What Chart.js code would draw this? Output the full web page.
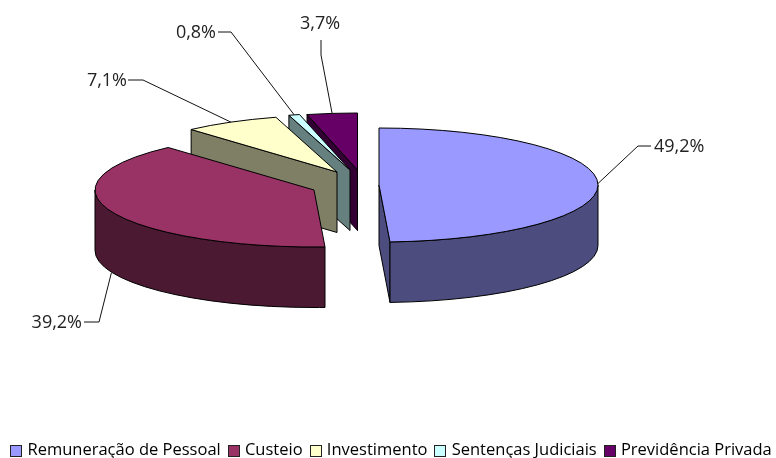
<!DOCTYPE html>
<html><head><meta charset="utf-8">
<style>html,body{margin:0;padding:0;background:#fff}#wrap{width:776px;height:458px}</style>
<script src="https://cdn.jsdelivr.net/npm/chart.js@4"></script>
</head><body><div id="wrap"><canvas id="c" width="776" height="458"></canvas></div>
<script>
const categories = ["Remuneração de Pessoal","Custeio","Investimento","Sentenças Judiciais","Previdência Privada"];
const shares = [49.2,39.2,7.1,0.8,3.7];
const colours = ["#9999ff","#993366","#ffffcc","#ccffff","#660066"];

// Layout only: exploded slice centres, ellipse radii, wall depth, label leaders
const FONT = '"Open Sans"';
const RX = 219, RY = 57, DEPTH = 60.5;
const centres = [[379,185],[314,190],[337,172],[350,170],[357.5,170]];
const leaders = [
  {via:[[638,146],[651,146]], text:[654,147,'left'], dy:0},
  {via:[[99,322],[84,322]], text:[82,323,'right'], dy:61},
  {via:[[143,80],[128,80]], text:[127,81,'right'], dy:0},
  {via:[[231,32],[218,32]], text:[216,33,'right'], dy:0},
  {via:[[321,55],[321,40]], text:[320,24,'center'], dy:0}
];
const shade = h => {
  const n = parseInt(h.slice(1),16);
  return `rgb(${(n>>16&255)>>1},${(n>>8&255)>>1},${(n&255)>>1})`;
};

const pie3d = {
  id:'pie3d',
  beforeDatasetDraw(chart){
    const ctx = chart.ctx, arcs = chart.getDatasetMeta(0).data;
    ctx.save();
    ctx.lineWidth = 1; ctx.strokeStyle = '#000'; ctx.lineJoin = 'round';
    for(let i=arcs.length-1;i>=0;i--){
      const s = arcs[i].startAngle, e = arcs[i].endAngle, [cx,cy] = centres[i];
      const pt = t => [cx+RX*Math.cos(t), cy+RY*Math.sin(t)];
      ctx.fillStyle = shade(colours[i]);
      const face = t => {
        const p = pt(t);
        ctx.beginPath(); ctx.moveTo(cx,cy); ctx.lineTo(p[0],p[1]);
        ctx.lineTo(p[0],p[1]+DEPTH); ctx.lineTo(cx,cy+DEPTH); ctx.closePath();
        ctx.fill(); ctx.stroke();
      };
      if(Math.cos(s)<0) face(s);
      if(Math.cos(e)>0) face(e);
      const a = Math.max(s,0), b = Math.min(e,Math.PI);
      if(a<b){
        ctx.beginPath();
        ctx.ellipse(cx,cy,RX,RY,0,a,b);
        ctx.ellipse(cx,cy+DEPTH,RX,RY,0,b,a,true);
        ctx.closePath(); ctx.fill(); ctx.stroke();
      }
      ctx.fillStyle = colours[i];
      ctx.beginPath(); ctx.moveTo(cx,cy);
      ctx.ellipse(cx,cy,RX,RY,0,s,e);
      ctx.closePath(); ctx.fill(); ctx.stroke();
    }
    ctx.font = '18px '+FONT; ctx.textBaseline = 'middle';
    arcs.forEach((arc,i)=>{
      const L = leaders[i], m = (arc.startAngle+arc.endAngle)/2, [cx,cy] = centres[i];
      ctx.beginPath();
      ctx.moveTo(cx+RX*Math.cos(m), cy+RY*Math.sin(m)+L.dy);
      L.via.forEach(p=>ctx.lineTo(p[0],p[1]));
      ctx.strokeStyle = '#111'; ctx.stroke();
      ctx.fillStyle = '#222'; ctx.textAlign = L.text[2];
      ctx.fillText(shares[i].toFixed(1).replace('.',',')+'%', L.text[0], L.text[1]);
    });
    ctx.restore();
    return false;
  },
  afterDraw(chart){
    const ctx = chart.ctx, boxes = chart.legend.legendHitBoxes;
    ctx.save(); ctx.lineWidth = 1; ctx.strokeStyle = '#222';
    boxes.forEach((b,i)=>{
      const y = Math.round(b.top + b.height/2 - 5.5);
      ctx.fillStyle = colours[i];
      ctx.fillRect(Math.round(b.left)+.5, y+.5, 11, 11);
      ctx.strokeRect(Math.round(b.left)+.5, y+.5, 11, 11);
    });
    ctx.restore();
  }
};

new Chart(document.getElementById('c'),{
  type:'pie',
  data:{labels:categories,datasets:[{data:shares,backgroundColor:colours,borderColor:'#000',borderWidth:1}]},
  options:{
    responsive:false,animation:false,
    layout:{padding:{bottom:-11,left:3,right:-3}},
    plugins:{
      tooltip:{enabled:false},
      legend:{position:'bottom',
        labels:{boxWidth:9,boxHeight:11,padding:7,color:'#222',font:{family:FONT,size:16.5},
          generateLabels(chart){
            return categories.map((text,index)=>({text,index,fillStyle:'rgba(0,0,0,0)',strokeStyle:'rgba(0,0,0,0)',lineWidth:0,hidden:false}));
          }}}
    }
  },
  plugins:[pie3d]
});
</script></body></html>
